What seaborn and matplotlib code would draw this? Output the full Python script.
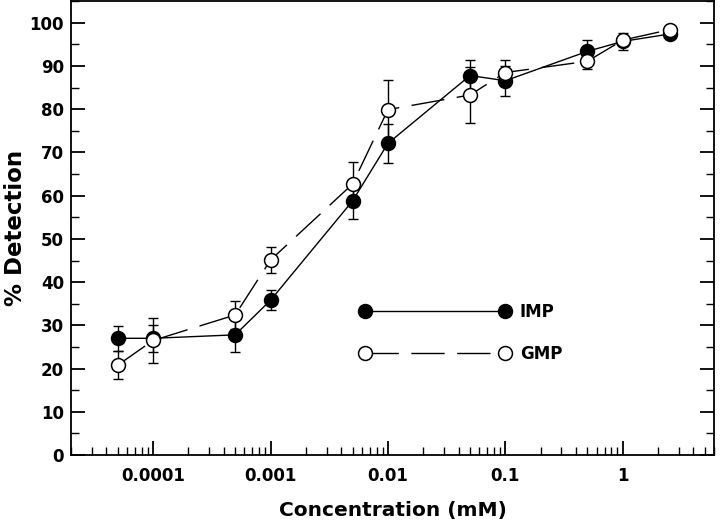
import numpy as np
import pandas as pd
import matplotlib
matplotlib.use('Agg')
import matplotlib.pyplot as plt
import matplotlib.ticker as mticker
import seaborn as sns

# Data
conc = [0.00005, 0.0001, 0.0005, 0.001, 0.005, 0.01, 0.05, 0.1, 0.5, 1.0, 2.5]
imp = [27.0, 27.0, 27.8, 35.8, 58.8, 72.1, 87.8, 86.6, 93.4, 95.7, 97.4]
imp_err = [2.9, 3.1, 4.0, 2.3, 4.2, 4.5, 3.7, 3.5, 2.6, 2.0, 1.0]
gmp = [20.8, 26.5, 32.4, 45.1, 62.7, 79.9, 83.3, 88.5, 91.1, 96.0, 98.4]
gmp_err = [3.3, 5.1, 3.3, 3.1, 5.1, 6.8, 6.5, 3.0, 1.7, 0.8, 0.6]
tick_vals = [0.0001, 0.001, 0.01, 0.1, 1]

df = pd.DataFrame({'conc': conc, 'IMP': imp, 'GMP': gmp})

sns.set_style('ticks')
plt.rcParams['font.family'] = ['DejaVu Sans']
plt.rcParams['font.weight'] = 'bold'
for key in ['text.color', 'axes.labelcolor', 'xtick.color', 'ytick.color', 'axes.edgecolor']:
    plt.rcParams[key] = 'black'

fig = plt.figure(figsize=(7.21, 5.21), dpi=100)
ax = fig.add_axes([0.0985, 0.1267, 0.892, 0.871])

# error bars first, then lines with markers on top
ax.errorbar(conc, imp, yerr=imp_err, fmt='none', ecolor='black',
            elinewidth=1, capsize=3.6, capthick=1, zorder=2)
ax.errorbar(conc, gmp, yerr=gmp_err, fmt='none', ecolor='black',
            elinewidth=1, capsize=3.6, capthick=1, zorder=2)

sns.lineplot(data=df, x='conc', y='IMP', ax=ax, color='black', linewidth=1,
             marker='o', markersize=10, markerfacecolor='black',
             markeredgecolor='black', markeredgewidth=1.1, label='IMP', zorder=3)
sns.lineplot(data=df, x='conc', y='GMP', ax=ax, color='black', linewidth=1,
             marker='o', markersize=10, markerfacecolor='white',
             markeredgecolor='black', markeredgewidth=1.1, label='GMP', zorder=4,
             dashes=(24, 9))

ax.set_xscale('log')
ax.set_xlim(2e-5, 6)
ax.set_ylim(0, 105)

ax.xaxis.set_major_locator(mticker.FixedLocator(tick_vals))
ax.xaxis.set_major_formatter(mticker.FuncFormatter(lambda v, p: '{:g}'.format(v)))
ax.xaxis.set_minor_locator(mticker.LogLocator(base=10, subs=np.arange(2, 10)))
ax.xaxis.set_minor_formatter(mticker.NullFormatter())
ax.yaxis.set_major_locator(mticker.MultipleLocator(10))
ax.yaxis.set_minor_locator(mticker.MultipleLocator(5))

ax.tick_params(axis='both', which='major', direction='in', length=10, width=1.3,
               labelsize=12, colors='black')
ax.tick_params(axis='both', which='minor', direction='in', length=5.5, width=1,
               colors='black')
ax.tick_params(axis='x', which='major', pad=9)
ax.tick_params(axis='y', which='major', pad=5)
ax.tick_params(axis='y', which='both', left=True, right=True)
ax.tick_params(axis='x', which='both', top=False)
for lab in ax.get_xticklabels() + ax.get_yticklabels():
    lab.set_fontweight('bold')

for s in ax.spines.values():
    s.set_linewidth(1.3)
    s.set_color('black')
    s.set_visible(True)

ax.set_xlabel('Concentration (mM)', fontsize=14.5, fontweight='bold', labelpad=11)
ax.set_ylabel('% Detection', fontsize=16.5, fontweight='bold', labelpad=2)

handles, labels = ax.get_legend_handles_labels()
ax.legend(handles, labels, numpoints=2, handlelength=9.0, handletextpad=0.6,
          labelspacing=1.4, frameon=False, loc='center left', borderpad=0,
          borderaxespad=0, bbox_to_anchor=(0.449, 0.269),
          prop={'weight': 'bold', 'size': 12})

fig.savefig('out.png', dpi=100)
